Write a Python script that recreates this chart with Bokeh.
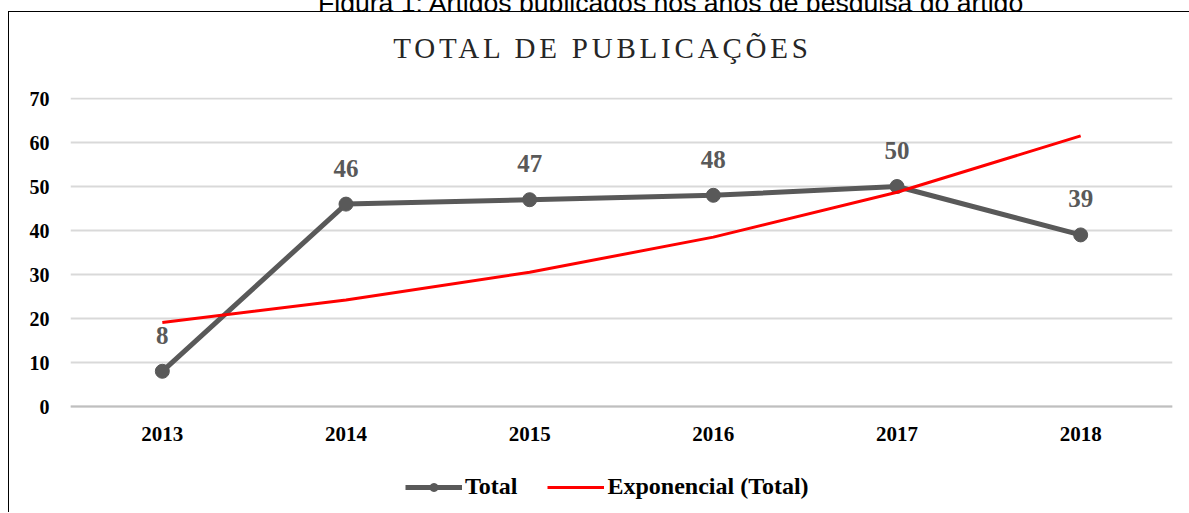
from bokeh.plotting import figure
from bokeh.models import (ColumnDataSource, Legend, LegendItem, Div, FactorRange,
                          Range1d, FixedTicker, CategoricalAxis)
from bokeh.layouts import column
from bokeh.embed import file_html
from bokeh.resources import INLINE

# ---- data ----
years = ["2013", "2014", "2015", "2016", "2017", "2018"]
total = [8, 46, 47, 48, 50, 39]
trend = [19.1, 24.2, 30.5, 38.5, 48.7, 61.5]   # exponential trendline read at each year
y_ticks = [0, 10, 20, 30, 40, 50, 60, 70]
title_text = "TOTAL DE PUBLICAÇÕES"
caption_text = "Figura 1: Artigos publicados nos anos de pesquisa do artigo"
legend_labels = ["Total", "Exponencial (Total)"]

src = ColumnDataSource(dict(x=years, total=total, trend=trend,
                            lbl=[str(v) for v in total]))

# y range extends below 0 so the legend area lies inside the plot frame
p = figure(x_range=FactorRange(*years, range_padding=0), y_range=Range1d(-24.09, 70.23),
           width=1180, height=440, output_backend="svg", toolbar_location=None,
           x_axis_location=None,
           min_border_left=61, min_border_right=17, min_border_top=25,
           min_border_bottom=0)
p.outline_line_color = None
p.background_fill_color = "white"
p.border_fill_color = "white"

# x axis drawn at y = 0
xaxis = CategoricalAxis(fixed_location=0)
xaxis.axis_line_color = "#bfbfbf"
xaxis.axis_line_width = 2
xaxis.major_tick_line_color = None
xaxis.minor_tick_line_color = None
xaxis.major_label_standoff = 14
xaxis.major_label_text_font = "Liberation Serif"
xaxis.major_label_text_font_style = "bold"
xaxis.major_label_text_font_size = "21px"
xaxis.major_label_text_color = "black"
p.add_layout(xaxis, "below")

p.yaxis.ticker = FixedTicker(ticks=y_ticks)
p.yaxis.axis_line_color = None
p.yaxis.major_tick_line_color = None
p.yaxis.minor_tick_line_color = None
p.yaxis.major_label_standoff = 15
p.yaxis.major_label_text_font = "Liberation Serif"
p.yaxis.major_label_text_font_style = "bold"
p.yaxis.major_label_text_font_size = "20px"
p.yaxis.major_label_text_color = "black"

p.xgrid.grid_line_color = None
p.ygrid.ticker = FixedTicker(ticks=y_ticks)
p.ygrid.grid_line_color = "#d9d9d9"
p.ygrid.grid_line_width = 2

# series
r_line = p.line("x", "total", source=src, line_color="#595959", line_width=5)
r_pts = p.scatter("x", "total", source=src, size=14, fill_color="#595959",
                  line_color="#595959")
r_trend = p.line("x", "trend", source=src, line_color="#ff0000", line_width=3)

p.text("x", "total", text="lbl", source=src, text_align="center",
       text_baseline="alphabetic", y_offset=-36, text_font_size="25px",
       text_font="Liberation Serif", text_font_style="bold", text_color="#595959")

legend = Legend(items=[LegendItem(label=legend_labels[0], renderers=[r_line, r_pts]),
                       LegendItem(label=legend_labels[1], renderers=[r_trend])],
                orientation="horizontal", glyph_width=57, glyph_height=20,
                label_standoff=3, spacing=30, padding=0, margin=0,
                location=(335, 12), border_line_color=None,
                background_fill_alpha=0,
                label_text_font="Liberation Serif", label_text_font_style="bold",
                label_text_font_size="24px", label_text_color="black")
p.add_layout(legend)

caption = Div(text=('<div style="margin-left:318px;margin-top:-18px;white-space:nowrap;'
                    'font-family:\'Liberation Sans\';font-size:26.6px;line-height:30px;'
                    'color:#000">' + caption_text + '</div>'),
              width=1189, height=11, margin=0, styles={"overflow": "hidden"})

title_div = Div(text=('<div style="display:block;width:1180px;box-sizing:border-box;'
                      'text-align:center;padding-left:7px;padding-top:20px;'
                      'font-family:\'Liberation Serif\';font-size:29px;line-height:32px;'
                      'letter-spacing:3.8px;color:#262626;white-space:nowrap">'
                      + title_text + '</div>'),
                width=1180, height=60, margin=0)

box = column(title_div, p, margin=(0, 0, 0, 8),
             styles={"border-left": "1px solid #000", "border-top": "1px solid #000"})
layout = column(caption, box, margin=0)

open("out.html", "w", encoding="utf-8").write(file_html(layout, INLINE))
